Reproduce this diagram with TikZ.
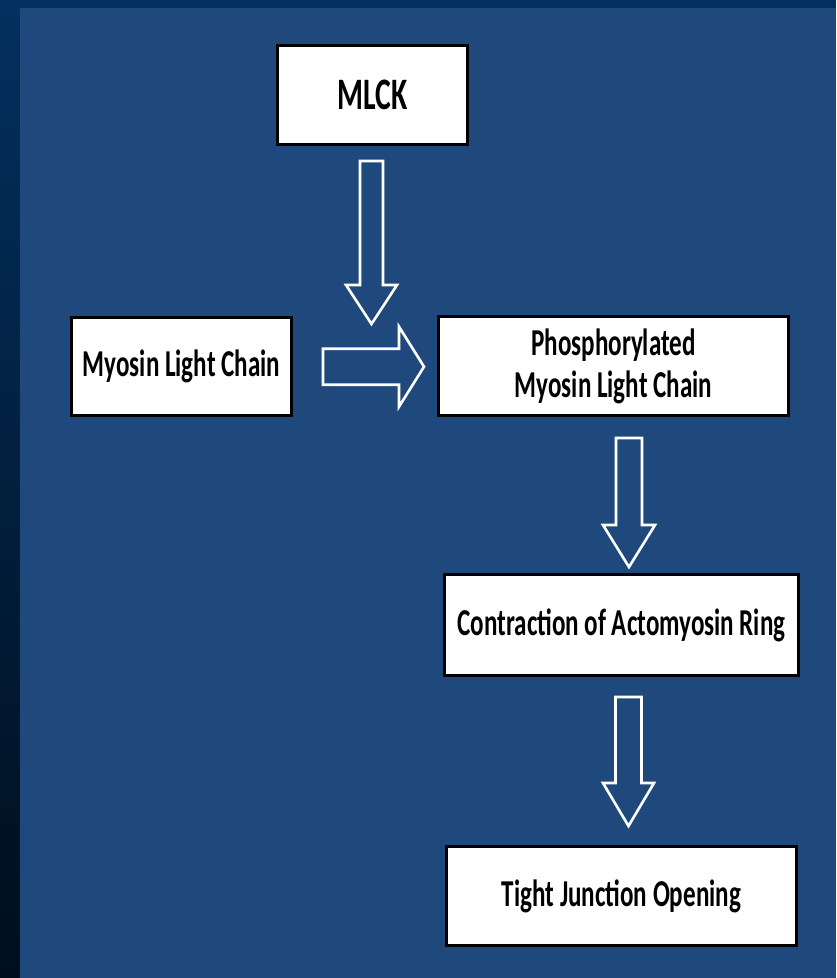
\documentclass[tikz,border=0pt]{standalone}
\usepackage{fontspec}
\usetikzlibrary{calc}
\newfontfamily\boxfont[FakeStretch=0.66]{Carlito}
\definecolor{panelblue}{HTML}{1F497D}
\definecolor{bandtop}{HTML}{03305F}
\definecolor{bandbottom}{HTML}{000E1C}

\tikzset{
  bashaft/.store in=\bashaft, bahead/.store in=\bahead, balen/.store in=\balen,
  blockline/.style={draw=white, line width=2.6pt, line join=miter},
  stepbox/.style={draw=black, line width=3.5pt, fill=white, inner sep=0pt,
    align=center, font=\boxfont\bfseries\fontsize{38}{42}\selectfont},
  down block/.style={blockline, to path={
    let \p1=(\tikztostart), \p2=(\tikztotarget) in
    (\x1-\bashaft,\y1) -- (\x1+\bashaft,\y1) -- (\x1+\bashaft,\y2+\balen)
    -- (\x1+\bahead,\y2+\balen) -- (\x1,\y2) -- (\x1-\bahead,\y2+\balen)
    -- (\x1-\bashaft,\y2+\balen) -- cycle}},
  right block/.style={blockline, to path={
    let \p1=(\tikztostart), \p2=(\tikztotarget) in
    (\x1,\y1+\bashaft) -- (\x2-\balen,\y1+\bashaft) -- (\x2-\balen,\y1+\bahead)
    -- (\x2,\y1) -- (\x2-\balen,\y1-\bahead) -- (\x2-\balen,\y1-\bashaft)
    -- (\x1,\y1-\bashaft) -- cycle}},
}

\begin{document}
\begin{tikzpicture}[x=1pt,y=-1pt]
  % background: dark bands on top and left, blue panel
  \useasboundingbox (0,0) rectangle (836,978);
  \fill[bandtop] (0,0) rectangle (836,978);
  \shade[top color=bandtop, bottom color=bandbottom] (0,0) rectangle (20,978);
  \fill[panelblue] (20,8) rectangle (836,978);

  % process steps
  \node[stepbox, minimum width=190pt, minimum height=99pt,
        font=\boxfont\bfseries\fontsize{45}{50}\selectfont] (mlck) at (372.5,95) {MLCK};
  \node[stepbox, minimum width=220pt, minimum height=98pt] (mlc) at (181.5,366.5) {Myosin Light Chain};
  \node[stepbox, minimum width=350pt, minimum height=99pt] (pmlc) at (613.5,366)
        {Phosphorylated\\Myosin Light Chain};
  \node[stepbox, minimum width=354pt, minimum height=101pt] (ring) at (621.5,625)
        {Contraction of Actomyosin Ring};
  \node[stepbox, minimum width=350pt, minimum height=99pt] (tjo) at (621.5,896)
        {Tight Junction Opening};

  % arrow ends
  \coordinate (kinaseout) at (371.5,161);
  \coordinate (kinasein)  at (371.5,324);
  \coordinate (chainout)  at (323,366.7);
  \coordinate (chainin)   at (424,366.7);
  \coordinate (pmlcout)   at (629,438);
  \coordinate (ringin)    at (629,567);
  \coordinate (ringout)   at (628.5,697);
  \coordinate (tjoin)     at (628.5,826);

  % hollow block arrows
  \draw[down block, bashaft=11.5pt, bahead=25.5pt, balen=39pt] (kinaseout) to (kinasein);
  \draw[right block, bashaft=18pt, bahead=40pt, balen=25pt] (chainout) to (chainin);
  \draw[down block, bashaft=13pt, bahead=26pt, balen=42pt] (pmlcout) to (ringin);
  \draw[down block, bashaft=13pt, bahead=25.5pt, balen=43pt] (ringout) to (tjoin);
\end{tikzpicture}
\end{document}
